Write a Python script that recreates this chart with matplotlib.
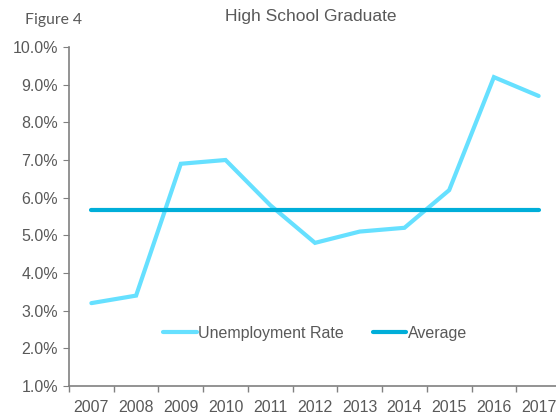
import matplotlib
matplotlib.use("Agg")
import matplotlib.pyplot as plt
from matplotlib.ticker import FixedLocator, NullFormatter

years = ["2007", "2008", "2009", "2010", "2011", "2012", "2013", "2014", "2015", "2016", "2017"]
unemployment = [3.2, 3.4, 6.9, 7.0, 5.8, 4.8, 5.1, 5.2, 6.2, 9.2, 8.7]
average = [5.67] * len(years)
yticks = [1, 2, 3, 4, 5, 6, 7, 8, 9, 10]

plt.rcParams['font.family'] = ['Liberation Sans', 'DejaVu Sans']
gray = "#595959"

fig = plt.figure(figsize=(5.56, 4.17), dpi=100)
ax = fig.add_axes([69/556, 31/417, 492/556, 339/417])

x = list(range(len(years)))
ax.plot(x, unemployment, color="#66E0FF", lw=3.0, solid_capstyle="round",
        solid_joinstyle="miter", label="Unemployment Rate")
ax.plot(x, average, color="#00AED9", lw=3.0, solid_capstyle="round", label="Average")

ax.set_xlim(-0.5, len(years) - 0.5)
ax.set_ylim(1, 10)
ax.set_yticks(yticks)
ax.set_yticklabels([f"{v:.1f}%" for v in yticks])

ax.xaxis.set_major_locator(FixedLocator([i - 0.5 for i in range(len(years) + 1)]))
ax.xaxis.set_major_formatter(NullFormatter())
ax.xaxis.set_minor_locator(FixedLocator(x))
ax.set_xticklabels(years, minor=True)
ax.tick_params(axis="x", which="minor", length=0, labelsize=11.5, labelcolor=gray, pad=10)
ax.tick_params(axis="x", which="major", length=4, color="#808080", width=1)
ax.tick_params(axis="y", length=4, color="#808080", labelsize=11.5, labelcolor=gray, pad=4)

for s in ["top", "right"]:
    ax.spines[s].set_visible(False)
for s in ["left", "bottom"]:
    ax.spines[s].set_color("#808080")
    ax.spines[s].set_linewidth(1.2)

leg = ax.legend(loc="center", bbox_to_anchor=(0.5, 0.156), ncol=2, frameon=False,
                fontsize=11.5, handlelength=2.1, handletextpad=0.1, columnspacing=1.8)
for t in leg.get_texts():
    t.set_color(gray)

fig.text(311/556, 1 - 16/417, "High School Graduate", ha="center", va="center",
         fontsize=12.5, color=gray)
fig.text(25/556, 1 - 20/417, "Figure 4", ha="left", va="center",
         fontsize=11.3, color=gray, family=["Lato", "DejaVu Sans"])

fig.savefig("out.png", dpi=100)
